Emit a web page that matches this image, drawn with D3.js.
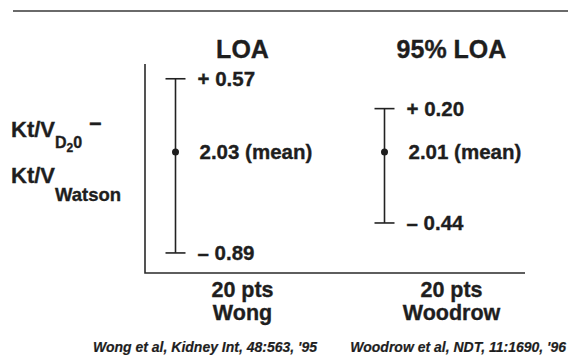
<!DOCTYPE html>
<html>
<head>
    <meta charset="utf-8">
    <title>LOA</title>
    <style>
        body { margin: 0; background: #fff; }
        text { font-family: "Liberation Sans", Arial, Helvetica, sans-serif; font-weight: bold; fill: #1e1e1e; stroke: #1e1e1e; stroke-width: 0.35; }
    </style>
</head>
<body>

<main></main>

<script src="https://cdn.jsdelivr.net/npm/d3@7"></script>
<script>
    // 数据
    var headers = ["LOA", "95% LOA"];
    var studies = ["Wong", "Woodrow"];
    var patients = ["20 pts", "20 pts"];
    var means = [2.03, 2.01];
    var upper = [0.57, 0.20];
    var lower = [-0.89, -0.44];
    var citations = ["Wong et al, Kidney Int, 48:563, '95", "Woodrow et al, NDT, 11:1690, '96"];

    var width = 568;
    var height = 358;
    var svg = d3.select("main")
        .append("svg")
        .attr("width", width)
        .attr("height", height);

    // 比例尺 (示意图, 非线性)
    var x = d3.scaleBand().domain(studies).range([138, 556]);
    var y = d3.scaleSqrt().domain([-1, 0, 1]).range([259, 152, 55]);
    var fmt = d3.format(".2f");

    var rows = studies.map(function (s, i) {
        return { study: s, header: headers[i], pts: patients[i], mean: means[i], up: upper[i], lo: lower[i] };
    });
    function cx(d) { return x(d.study) + x.bandwidth() / 2; }
    function bx(d) { return cx(d) - 67; }

    // 顶部横线
    svg.append("line")
        .attr("x1", 13).attr("x2", width)
        .attr("y1", 11).attr("y2", 11)
        .attr("stroke", "#6a6a6a")
        .attr("stroke-width", 2);

    // 坐标轴
    svg.append("path")
        .attr("d", "M145,64V273H525")
        .attr("fill", "none")
        .attr("stroke", "#2a2a2a")
        .attr("stroke-width", 1.6);

    // 标题
    svg.selectAll(".header")
        .data(rows)
        .enter()
        .append("text")
        .attr("class", "header")
        .attr("x", cx)
        .attr("y", 58)
        .attr("text-anchor", "middle")
        .attr("font-size", 25)
        .text(function (d) { return d.header; });

    // 误差线
    var g = svg.selectAll(".bar")
        .data(rows)
        .enter()
        .append("g")
        .attr("class", "bar");

    g.append("line")
        .attr("x1", bx).attr("x2", bx)
        .attr("y1", function (d) { return y(d.up); })
        .attr("y2", function (d) { return y(d.lo); })
        .attr("stroke", "#222")
        .attr("stroke-width", 1.6);

    [["up", 1], ["lo", -1]].forEach(function (k) {
        g.append("line")
            .attr("x1", function (d) { return bx(d) - 10; })
            .attr("x2", function (d) { return bx(d) + 10; })
            .attr("y1", function (d) { return y(d[k[0]]); })
            .attr("y2", function (d) { return y(d[k[0]]); })
            .attr("stroke", "#222")
            .attr("stroke-width", 1.6);
        g.append("text")
            .attr("x", function (d) { return bx(d) + 22; })
            .attr("y", function (d) { return y(d[k[0]]) + 7; })
            .attr("font-size", 20.5)
            .text(function (d) {
                return (k[1] > 0 ? "+ " : "\u2013 ") + fmt(Math.abs(d[k[0]]));
            });
    });

    g.append("circle")
        .attr("cx", bx)
        .attr("cy", y(0))
        .attr("r", 3.5)
        .attr("fill", "#1e1e1e");

    g.append("text")
        .attr("x", function (d) { return bx(d) + 24; })
        .attr("y", y(0) + 7)
        .attr("font-size", 20.5)
        .text(function (d) { return fmt(d.mean) + " (mean)"; });

    // 纵轴标签
    var t1 = svg.append("text").attr("x", 11).attr("y", 137).attr("font-size", 22);
    t1.append("tspan").text("Kt/V");
    t1.append("tspan").attr("dy", 11).attr("font-size", 16).text("D");
    t1.append("tspan").attr("dy", 4).attr("font-size", 12).text("2");
    t1.append("tspan").attr("dy", -4).attr("font-size", 16).text("0");
    t1.append("tspan").attr("dx", 7).attr("dy", -18).text("\u2013");

    var t2 = svg.append("text").attr("x", 11).attr("y", 183).attr("font-size", 22);
    t2.append("tspan").text("Kt/V");
    t2.append("tspan").attr("dy", 18).attr("font-size", 18.5).text("Watson");

    // 底部类别
    svg.selectAll(".pts")
        .data(rows)
        .enter()
        .append("text")
        .attr("x", cx)
        .attr("y", 297)
        .attr("text-anchor", "middle")
        .attr("font-size", 21.5)
        .text(function (d) { return d.pts; });

    svg.selectAll(".study")
        .data(rows)
        .enter()
        .append("text")
        .attr("x", cx)
        .attr("y", 320)
        .attr("text-anchor", "middle")
        .attr("font-size", 21.5)
        .text(function (d) { return d.study; });

    // 文献
    svg.selectAll(".cite")
        .data(citations)
        .enter()
        .append("text")
        .attr("x", function (d, i) { return i === 0 ? 205 : 566; })
        .attr("y", 352)
        .attr("text-anchor", function (d, i) { return i === 0 ? "middle" : "end"; })
        .attr("font-size", 14)
        .attr("font-style", "italic")
        .style("stroke-width", 0.2)
        .text(function (d) { return d; });
</script>
</body>
</html>
